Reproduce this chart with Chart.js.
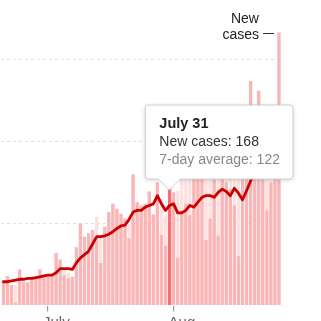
<!DOCTYPE html>
<html>
<head>
<meta charset="utf-8">
<script src="https://cdn.jsdelivr.net/npm/chart.js@4.4.1/dist/chart.umd.min.js"></script>
<style>
html, body { margin: 0; padding: 0; background: #fff; overflow: hidden; }
#wrap { position: relative; width: 321px; height: 321px; }
</style>
</head>
<body>
<div id="wrap"><canvas id="casesChart" width="321" height="321"></canvas></div>
<script>
// days shown: June 20 .. Aug. 27
const monthNames = ['Jan.', 'Feb.', 'March', 'April', 'May', 'June', 'July', 'Aug.', 'Sept.', 'Oct.', 'Nov.', 'Dec.'];
const dayLabels = [];
for (let d = new Date(2020, 5, 20); d <= new Date(2020, 7, 27); d.setDate(d.getDate() + 1)) {
    dayLabels.push(monthNames[d.getMonth()] + ' ' + d.getDate());
}

const monthTicks = ['July 1', 'Aug. 1'];
const monthTickLabels = ['July', 'Aug'];

// reported new cases (full bar height)
const newCases = [
    30, 36, 25, 25, 44, 29, 28, 35, 35, 44,
    36, 36, 37, 64, 56, 43, 40, 35, 71, 100,
    84, 88, 92, 108, 84, 96, 114, 124, 118, 112,
    106, 108, 160, 126, 122, 124, 139, 111, 150, 130,
    110, 168, 138, 140, 165, 165, 160, 170, 175, 180,
    165, 170, 185, 162, 190, 175, 180, 170, 165, 195,
    200, 274, 190, 262, 200, 210, 220, 205, 333
];

// darker lower part of each bar
const confirmedCases = [
    30, 36, 25, 4, 44, 29, 28, 35, 35, 44,
    36, 36, 37, 64, 56, 37, 33, 35, 71, 100,
    84, 88, 92, 82, 52, 96, 114, 124, 118, 112,
    106, 82, 160, 126, 122, 124, 139, 111, 150, 86,
    73, 168, 138, 58, 116, 124, 110, 170, 175, 180,
    80, 106, 185, 85, 190, 150, 142, 122, 60, 195,
    200, 274, 190, 262, 200, 116, 150, 205, 333
];

const sevenDayAverage = [
    29, 29, 30, 31, 32, 32, 33, 33, 34, 35,
    36, 37, 37, 40, 45, 45, 45, 44, 52, 58,
    62, 66, 75, 84, 84, 85, 87, 90, 94, 97,
    98, 105, 114, 116, 116, 120, 122, 124, 134, 124,
    116, 122, 124, 113, 113, 116, 122, 120, 126, 132,
    134, 134, 132, 138, 142, 139, 134, 143, 137, 129,
    140, 152, 163, 172, 180, 187, 194, 200, 206
];

const highlightDay = 'July 31';
const oddDay = 'June 23';

const highlightIndex = dayLabels.indexOf(highlightDay);
const oddIndex = dayLabels.indexOf(oddDay);

const FONT = '"Liberation Sans", Arial, sans-serif';

function barColor(base, hl, odd) {
    return (ctx) => {
        if (ctx.dataIndex === highlightIndex) return hl;
        if (odd && ctx.dataIndex === oddIndex) return odd;
        return base;
    };
}

Chart.Tooltip.positioners.aboveAverage = function(items) {
    if (!items.length) return false;
    const chart = this.chart;
    const i = items[0].index;
    return {
        x: chart.scales.x.getPixelForValue(i),
        y: chart.scales.y.getPixelForValue(sevenDayAverage[i]) - 15
    };
};

const tooltipShift = {
    id: 'tooltipShift',
    beforeTooltipDraw(chart, args) {
        const tip = args.tooltip;
        // box sits mostly to the right of the caret
        tip.x = tip.caretX - 24;
        // soft shadow under the box
        const ctx = chart.ctx;
        ctx.save();
        ctx.shadowColor = 'rgba(0,0,0,0.18)';
        ctx.shadowBlur = 5;
        ctx.shadowOffsetY = 1;
        ctx.fillStyle = '#fff';
        ctx.beginPath();
        ctx.roundRect(tip.x, tip.y, tip.width, tip.height, 3);
        ctx.fill();
        ctx.restore();
    }
};

const lastBarNote = {
    id: 'lastBarNote',
    afterDraw(chart) {
        const ctx = chart.ctx;
        const last = newCases.length - 1;
        const x = chart.scales.x.getPixelForValue(last);
        const y = chart.scales.y.getPixelForValue(newCases[last]);
        ctx.save();
        ctx.font = '14px ' + FONT;
        ctx.fillStyle = '#222';
        ctx.textAlign = 'right';
        ctx.textBaseline = 'alphabetic';
        ctx.fillText('New', x - 20, y - 9.5);
        ctx.fillText('cases', x - 20, y + 6);
        ctx.strokeStyle = '#333';
        ctx.lineWidth = 1;
        ctx.beginPath();
        ctx.moveTo(x - 16, Math.round(y) + 0.5);
        ctx.lineTo(x - 5, Math.round(y) + 0.5);
        ctx.stroke();
        ctx.restore();
    }
};

const ctx = document.getElementById('casesChart').getContext('2d');
window.chart = new Chart(ctx, {
    type: 'bar',
    data: {
        labels: dayLabels,
        datasets: [
            {
                type: 'line',
                label: '7-day average',
                data: sevenDayAverage,
                borderColor: '#cc0000',
                borderWidth: 2.8,
                borderJoinStyle: 'round',
                borderCapStyle: 'round',
                pointRadius: 0,
                tension: 0,
                fill: false,
                order: 0
            },
            {
                label: 'Confirmed',
                data: confirmedCases,
                backgroundColor: barColor('#fab6b6', '#f27272', '#f7c87a'),
                grouped: false,
                categoryPercentage: 1,
                barPercentage: 0.8,
                order: 1
            },
            {
                label: 'New cases',
                data: newCases,
                backgroundColor: barColor('#fde1e1', '#f27272'),
                grouped: false,
                categoryPercentage: 1,
                barPercentage: 0.8,
                order: 2
            }
        ]
    },
    options: {
        responsive: false,
        animation: false,
        events: [],
        layout: { padding: { left: 0.8, right: 40, top: 0, bottom: 0 } },
        scales: {
            x: {
                afterFit: (s) => { s.height = 15.5; },
                grid: {
                    display: true,
                    drawOnChartArea: false,
                    drawTicks: true,
                    tickLength: 6,
                    offset: false,
                    color: '#999',
                    lineWidth: 1.2
                },
                border: { display: false },
                ticks: {
                    autoSkip: false,
                    maxRotation: 0,
                    align: 'start',
                    labelOffset: -5,
                    padding: 2,
                    color: '#666',
                    font: { family: FONT, size: 15 },
                    callback: function(value, index) {
                        const k = monthTicks.indexOf(dayLabels[index]);
                        return k >= 0 ? monthTickLabels[k] : null;
                    }
                }
            },
            y: {
                min: 0,
                max: 371,
                afterFit: (s) => { s.width = 0; },
                grid: {
                    drawTicks: false,
                    color: (c) => c.tick && c.tick.value === 0 ? 'rgba(0,0,0,0)' : '#dedede',
                    lineWidth: 1
                },
                border: { display: false, dash: [3, 3] },
                ticks: { display: false, stepSize: 100, includeBounds: false }
            }
        },
        plugins: {
            legend: { display: false },
            tooltip: {
                enabled: true,
                position: 'aboveAverage',
                xAlign: 'center',
                yAlign: 'bottom',
                displayColors: false,
                backgroundColor: '#fff',
                borderColor: '#cfcfcf',
                borderWidth: 1,
                cornerRadius: 3,
                caretSize: 11,
                caretPadding: 0,
                padding: { top: 10, bottom: 10, left: 14, right: 13 },
                titleColor: '#222',
                titleFont: { family: FONT, size: 14.5, weight: 'bold', lineHeight: 1.2 },
                titleMarginBottom: 1.5,
                bodyFont: { family: FONT, size: 14, lineHeight: 1.2 },
                bodySpacing: 1.5,
                filter: (item) => item.dataset.label !== 'Confirmed',
                itemSort: (a, b) => b.datasetIndex - a.datasetIndex,
                callbacks: {
                    title: (items) => items.length ? items[0].label.replace('.', '') : '',
                    label: (item) => item.dataset.label + ': ' + item.raw,
                    labelTextColor: (item) => item.datasetIndex === 0 ? '#888' : '#333'
                }
            }
        }
    },
    plugins: [tooltipShift, lastBarNote]
});

window.chart.tooltip.setActiveElements([
    { datasetIndex: 2, index: highlightIndex },
    { datasetIndex: 0, index: highlightIndex }
], { x: 0, y: 0 });
window.chart.update();
</script>
</body>
</html>
